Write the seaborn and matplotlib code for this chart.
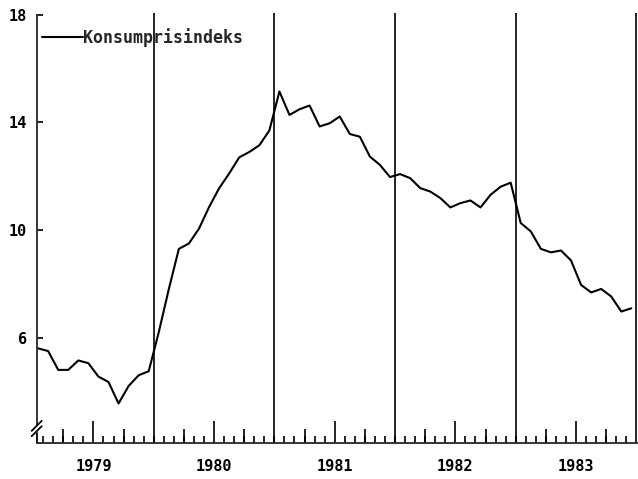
import matplotlib
matplotlib.use("Agg")
import matplotlib.pyplot as plt
import seaborn as sns
import pandas as pd
import numpy as np

# ---- data (monthly values) ----
years = [1979, 1980, 1981, 1982, 1983]
cpi_1979 = [5.6, 5.5, 4.8, 4.8, 5.15, 5.05, 4.55, 4.35, 3.55, 4.2, 4.6, 4.75]
cpi_1980 = [6.2, 7.8, 9.3, 9.5, 10.05, 10.85, 11.55, 12.1, 12.7, 12.9, 13.15, 13.7]
cpi_1981 = [15.15, 14.28, 14.49, 14.63, 13.85, 13.97, 14.22, 13.57, 13.47, 12.73, 12.42, 11.97]
cpi_1982 = [12.08, 11.93, 11.56, 11.43, 11.19, 10.84, 11.0, 11.1, 10.84, 11.31, 11.61, 11.76]
cpi_1983 = [10.26, 9.95, 9.3, 9.17, 9.24, 8.87, 7.96, 7.68, 7.81, 7.53, 6.97, 7.09]
series_label = "Konsumprisindeks"
y_ticks = [6, 10, 14, 18]

values = cpi_1979 + cpi_1980 + cpi_1981 + cpi_1982 + cpi_1983
time = [y + (m + 0.5) / 12 for y in years for m in range(12)]
df = pd.DataFrame({"tid": time, "verdi": values, "serie": series_label})

sns.set_theme(style="ticks")
plt.rcParams["font.family"] = ["DejaVu Sans Mono", "DejaVu Sans"]
plt.rcParams["font.weight"] = "bold"

fig = plt.figure(figsize=(6.38, 4.79), dpi=100)
ax = fig.add_axes([0.0575, 0.0745, 0.9405, 0.8984])

sns.lineplot(data=df, x="tid", y="verdi", hue="serie", palette=["black"],
             linewidth=1.5, ax=ax)

# year separators
for y in years[1:] + [years[-1] + 1]:
    ax.axvline(y, color="black", lw=1.2, zorder=1)

ymin, ymax = 2.07, 18.07
ax.set_xlim(years[0] + 0.03, years[-1] + 1.003)
ax.set_ylim(ymin, ymax)

for s in ["top", "right"]:
    ax.spines[s].set_visible(False)
ax.spines["bottom"].set_linewidth(1.3)
ax.spines["left"].set_linewidth(1.3)
ax.spines["left"].set_bounds(2.76, 18)

# bottom part of the y axis below the break, and break marks
yt = ax.get_yaxis_transform()
ax.plot([0, 0], [ymin, 2.47], transform=yt, color="black", lw=1.3, clip_on=False)
from matplotlib.transforms import offset_copy, ScaledTranslation
for yb in [2.52, 2.72]:
    base = ax.transData.transform((years[0] + 0.03, yb))
    pts = np.array([[base[0] - 5, base[1] - 5], [base[0] + 5, base[1] + 5]])
    pts = fig.transFigure.inverted().transform(pts)
    fig.add_artist(plt.Line2D(pts[:, 0], pts[:, 1], color="black", lw=1.3))

# x ticks: labels at mid-year, monthly minor ticks, quarter ticks
ax.set_xticks([y + 0.5 for y in years])
ax.set_xticklabels([str(y) for y in years])
ax.set_xticks([years[0] + k / 12 for k in range(1, 12 * len(years))], minor=True)
ax.tick_params(axis="x", which="major", direction="in", length=16, width=1.2,
               pad=11, labelsize=11, color="black", labelcolor="black")
ax.tick_params(axis="x", which="minor", direction="in", length=5, width=1.2,
               color="black")
sec = ax.secondary_xaxis("bottom")
sec.set_xticks([y + q for y in years for q in (0.25, 0.75)])
sec.set_xticklabels([])
sec.tick_params(axis="x", direction="in", length=10, width=1.2, color="black")
sec.spines["bottom"].set_visible(False)

ax.set_yticks(y_ticks)
ax.set_yticklabels([str(v) for v in y_ticks])
ax.tick_params(axis="y", direction="in", length=4, width=1.2, pad=7,
               labelsize=11, color="black", labelcolor="black")

ax.set_xlabel("")
ax.set_ylabel("")

leg = ax.legend(loc="center left", bbox_to_anchor=(0.0083, 0.944),
                frameon=False, borderaxespad=0, borderpad=0,
                handlelength=2.5, handletextpad=0, fontsize=12)
for h in leg.get_lines():
    h.set_linewidth(1.5)

fig.savefig("out.png", dpi=100, facecolor="white")
